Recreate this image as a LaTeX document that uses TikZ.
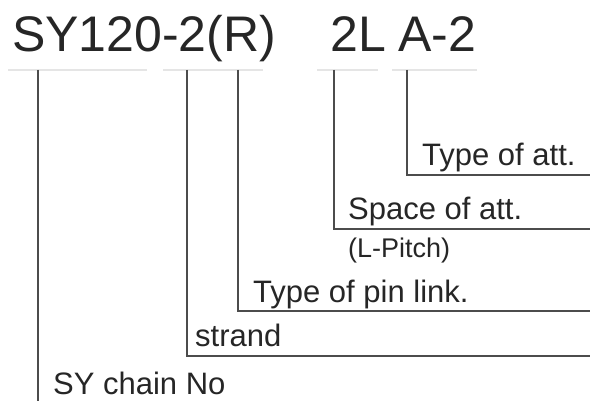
\documentclass[tikz,border=0pt]{standalone}
\usepackage{fontspec}
\setmainfont{Liberation Sans}

\tikzset{
  code/.style={anchor=base west, inner sep=0pt, text=black!85, font=\fontsize{50}{60}\selectfont},
  lbl/.style={anchor=base west, inner sep=0pt, text=black!85, font=\fontsize{31}{37}\selectfont},
  sublbl/.style={lbl, font=\fontsize{27}{32}\selectfont},
  lead/.style={line width=1.4pt, draw=black!70},
  faint/.style={line width=2pt, draw=black!10}
}

\begin{document}
\begin{tikzpicture}[x=1pt, y=-1pt]
			%%%%% START %%%%%
			\useasboundingbox (0, 0) rectangle (590, 401);
			
			\node[code] (sy) at (12, 52) {SY120-2(R)};
			\node[code] (pitch) at (330, 52) {2L};
			\node[code] (att) at (398, 52) {A-2};
			
			\draw[faint] (8, 70) -- (147, 70);
			\draw[faint] (163, 70) -- (263, 70);
			\draw[faint] (317, 70) -- (378, 70);
			\draw[faint] (392, 70) -- (477, 70);
			
			\coordinate (topno) at (38, 70);
			\coordinate (topstrand) at (187, 70);
			\coordinate (toppin) at (238, 70);
			\coordinate (topspace) at (334, 70);
			\coordinate (toptype) at (407, 70);
			
			\coordinate (endno) at (38, 401);
			\coordinate (endstrand) at (590, 356);
			\coordinate (endpin) at (590, 311);
			\coordinate (endspace) at (590, 229);
			\coordinate (endtype) at (590, 175);
			
			\draw[lead] (topno) -- (endno);
			\draw[lead] (topstrand) |- (endstrand);
			\draw[lead] (toppin) |- (endpin);
			\draw[lead] (topspace) |- (endspace);
			\draw[lead] (toptype) |- (endtype);
			
			\node[lbl] (typeatt) at (422, 166) {Type of att.};
			\node[lbl] (spaceatt) at (348, 220) {Space of att.};
			\node[sublbl] (lpitch) at (348, 258) {(L-Pitch)};
			\node[lbl] (pinlink) at (253, 302) {Type of pin link.};
			\node[lbl] (strand) at (195, 347) {strand};
			\node[lbl] (chainno) at (53, 395) {SY chain No};
			
			%%%%% END %%%%%
\end{tikzpicture}
\end{document}
